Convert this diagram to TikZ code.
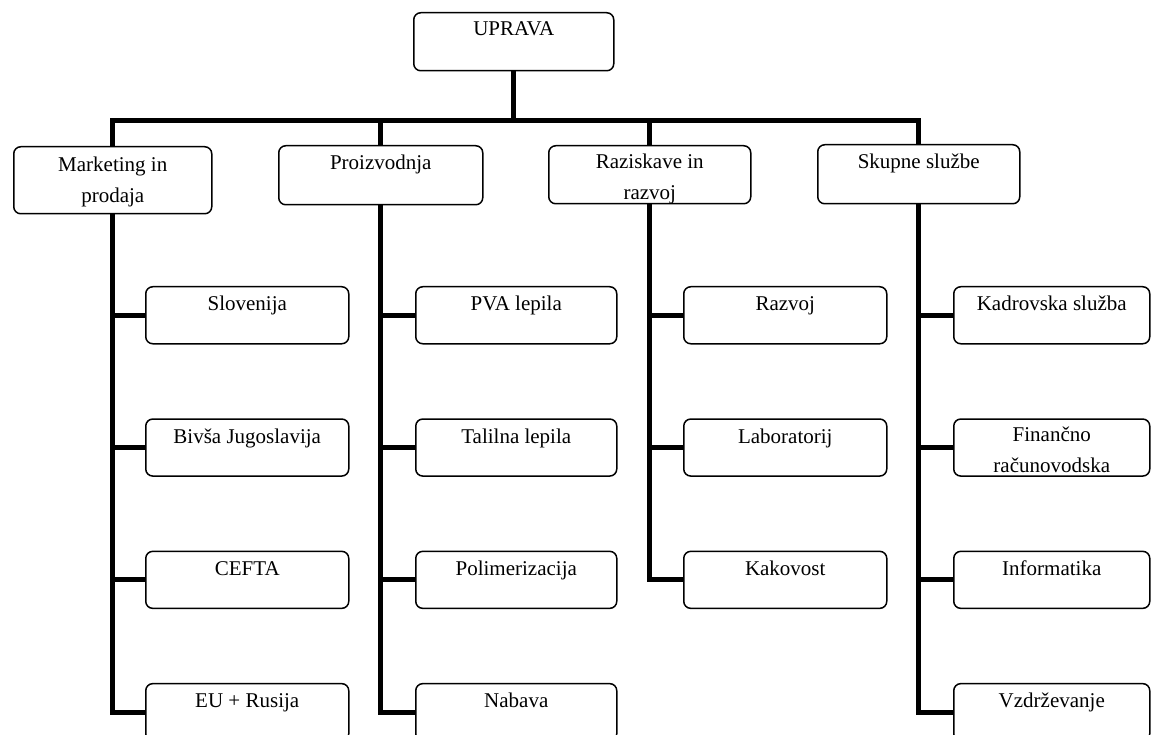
\documentclass[tikz,border=0pt]{standalone}
\usepackage{fontspec}
\setmainfont{Liberation Serif}
\usetikzlibrary{positioning}

\begin{document}
\begin{tikzpicture}[x=1pt,y=-1pt,node distance=73.8pt,
  unit box/.style={draw,line width=1.5pt,rounded corners=7pt,inner sep=0pt,
    align=center,minimum width=203pt,text height=24pt,text depth=33pt,
    anchor=north west,font=\fontsize{21}{31}\selectfont},
  link/.style={line width=5pt}]
  \useasboundingbox (0,0) rectangle (1151,735);

  % top level
  \node[unit box,minimum width=200pt,text height=23pt,text depth=35pt] (upr) at (413,12) {UPRAVA};

  % departments (two-line texts: height counts to the last baseline)
  \node[unit box,minimum width=198pt,text height=56pt,text depth=11pt] (mkt) at (13,146) {Marketing in\\prodaja};
  \node[unit box,minimum width=204pt,text depth=35pt] (pro) at (278,145) {Proizvodnja};
  \node[unit box,minimum width=202pt,text height=54pt,text depth=4pt] (raz) at (548,145) {Raziskave in\\razvoj};
  \node[unit box,minimum width=202pt,text depth=35pt] (sks) at (817,144) {Skupne službe};

  % units
  \node[unit box] (slo) at (145,286) {Slovenija};
  \node[unit box] (bju) [below=of slo] {Bivša Jugoslavija};
  \node[unit box] (cef) [below=of bju] {CEFTA};
  \node[unit box] (eur) [below=of cef] {EU + Rusija};

  \node[unit box,minimum width=201pt] (pva) at (415,286) {PVA lepila};
  \node[unit box,minimum width=201pt] (tal) [below=of pva] {Talilna lepila};
  \node[unit box,minimum width=201pt] (pol) [below=of tal] {Polimerizacija};
  \node[unit box,minimum width=201pt] (nab) [below=of pol] {Nabava};

  \node[unit box] (rzv) at (683,286) {Razvoj};
  \node[unit box] (lab) [below=of rzv] {Laboratorij};
  \node[unit box] (kak) [below=of lab] {Kakovost};

  \node[unit box,minimum width=196pt] (kad) at (953,286) {Kadrovska služba};
  \node[unit box,minimum width=196pt,text height=53pt,text depth=4pt] (fin) [below=of kad] {Finančno\\računovodska};
  \node[unit box,minimum width=196pt] (inf) [below=of fin] {Informatika};
  \node[unit box,minimum width=196pt] (vzd) [below=of inf] {Vzdrževanje};

  % connectors
  \coordinate (bar) at (0,121);
  \draw[link] (upr.south) -- (upr.south |- bar);
  \draw[link] (mkt.north) -- (mkt.north |- bar) -- (sks.north |- bar) -- (sks.north);
  \foreach \top in {pro,raz}
    \draw[link] (\top.north |- bar) -- (\top.north);

  \foreach \top/\last in {mkt/eur,pro/nab,raz/kak,sks/vzd}
    \draw[link] (\top.south) |- (\last.west);
  \foreach \top/\sub in {mkt/slo,mkt/bju,mkt/cef,pro/pva,pro/tal,pro/pol,
      raz/rzv,raz/lab,sks/kad,sks/fin,sks/inf}
    \draw[link] (\top.south |- \sub.west) -- (\sub.west);
\end{tikzpicture}
\end{document}
